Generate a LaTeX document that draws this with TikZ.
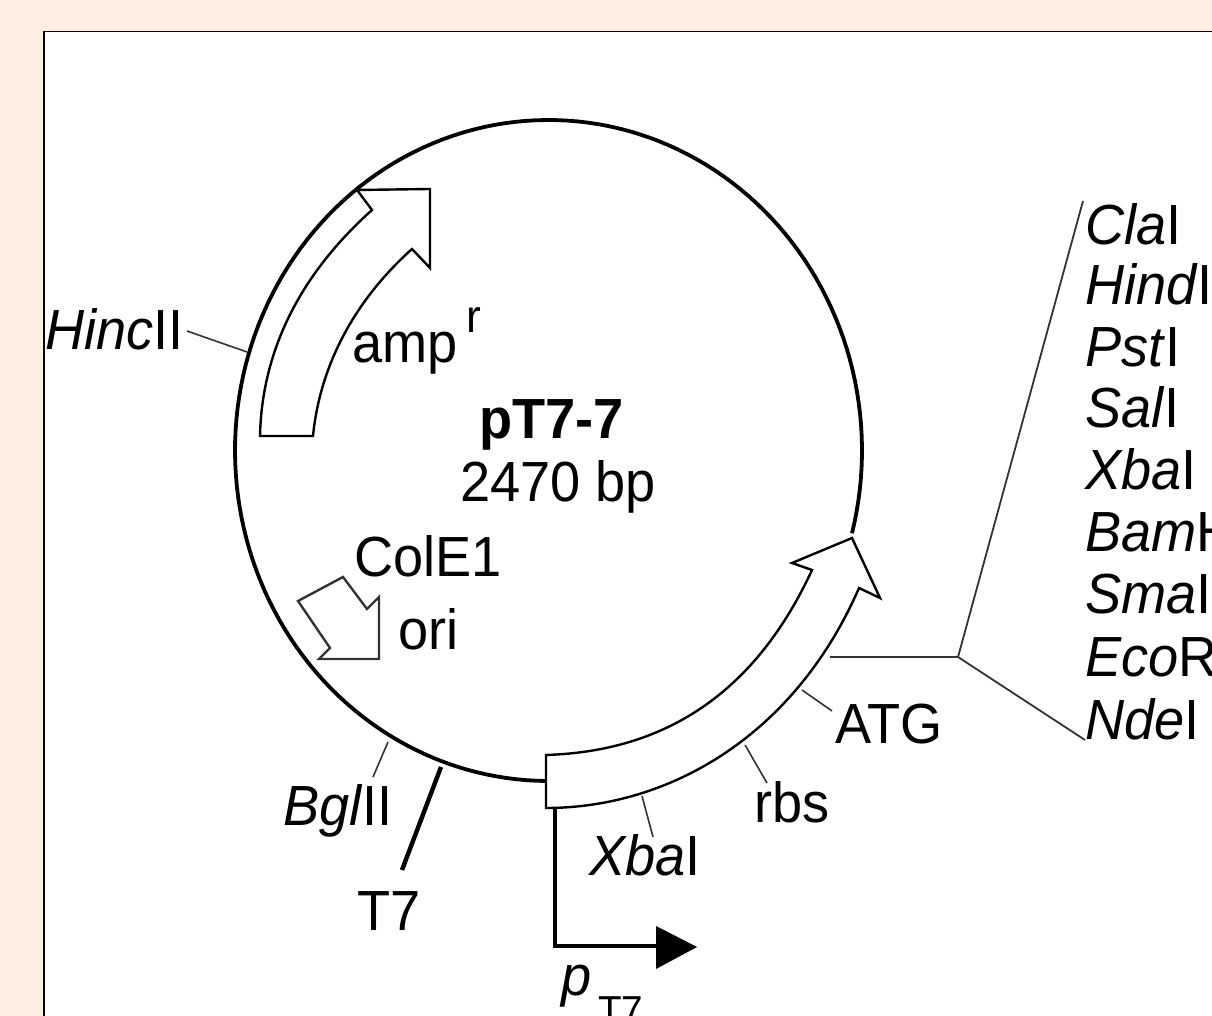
\documentclass[tikz,border=0pt]{standalone}
\usepackage{fontspec}
\setmainfont{Liberation Sans}
\definecolor{pagebg}{HTML}{FDEFE2}
\definecolor{soft}{HTML}{333333}
\newcommand{\lbl}[1]{\scalebox{1}[1.045]{#1}}
\newcommand{\ital}[1]{\textit{#1}}
\tikzset{
  lab/.style={anchor=base west,inner sep=0pt,outer sep=0pt,font=\fontsize{15.4pt}{18pt}\selectfont},
  labsmall/.style={lab,font=\fontsize{12.6pt}{15pt}\selectfont},
  labsub/.style={lab,font=\fontsize{11pt}{13pt}\selectfont},
  labbold/.style={lab,font=\fontsize{15.4pt}{18pt}\selectfont\bfseries},
  ring/.style={draw=black,line width=0.038cm},
  feature/.style={draw=black,line width=0.024cm,fill=white,line join=miter},
  orifeature/.style={draw=soft,line width=0.024cm,fill=white,line join=miter},
  thin leader/.style={draw=soft,line width=0.016cm},
  mcs leader/.style={draw=soft,line width=0.018cm},
  bold leader/.style={draw=black,line width=0.044cm},
  head/.style={fill=black,draw=none}
}
\begin{document}
\begin{tikzpicture}[x=0.01cm,y=-0.01cm]
\clip (0,0) rectangle (1212,1016);
\fill[pagebg] (0,0) rectangle (1212,1016);
\draw[black,line width=0.018cm,fill=white] (44,31.5) rectangle (1300,1100);

% plasmid ring
\draw[ring] plot[domain=-284.5:0,samples=150,variable=\t]
  ({548.5+313.5*sin(\t)},{450.5+330.5*cos(\t)});

% amp arrow
\draw[feature] (260,436) .. controls (262,345) and (305,270) .. (372,210)
  -- (357,190) -- (430,189) -- (430,268) -- (412,249)
  .. controls (355,300) and (320,365) .. (313,436) -- cycle;

% ori arrow
\draw[orifeature] (343,577) -- (367,609) -- (379,597) -- (379,659) -- (319,659)
  -- (330,648) -- (298,601) -- cycle;

% promoter
\coordinate (pStart) at (555,808);
\coordinate (pCorner) at (555,946);
\coordinate (pEnd) at (660,946);
\draw[bold leader,line join=miter] (pStart) -- (pCorner) -- (pEnd);
\fill[head] (656,926) -- (697,947) -- (656,969) -- cycle;

% large gene arrow
\draw[feature] (546,755) .. controls (640,752) and (745,715) .. (812,570)
  -- (792,563) -- (852,538) -- (880,598) -- (859,588)
  .. controls (795,735) and (670,808) .. (546,808) -- cycle;

% ticks
\coordinate (hincA) at (187,331);  \coordinate (hincB) at (247,352);
\coordinate (atgA) at (802,690);   \coordinate (atgB) at (832,711);
\coordinate (rbsA) at (745,745);   \coordinate (rbsB) at (767,783);
\coordinate (xbaA) at (642,796);   \coordinate (xbaB) at (653,837);
\coordinate (bglA) at (388,742);   \coordinate (bglB) at (373,777);
\coordinate (tsevA) at (441,767);  \coordinate (tsevB) at (402,870);
\coordinate (mcsA) at (830,657);   \coordinate (mcsB) at (958,657);
\coordinate (mcsT) at (1083,201);  \coordinate (mcsL) at (1085,740);
\draw[thin leader] (hincA) -- (hincB);
\draw[thin leader] (atgA) -- (atgB);
\draw[thin leader] (rbsA) -- (rbsB);
\draw[thin leader] (xbaA) -- (xbaB);
\draw[thin leader] (bglA) -- (bglB);
\draw[bold leader] (tsevA) -- (tsevB);
\draw[mcs leader] (mcsA) -- (mcsB);
\draw[mcs leader] (mcsT) -- (mcsB) -- (mcsL);

% labels
\node[lab] (hinc) at (45,350) {\lbl{\ital{Hinc}II}};
\node[lab] (amp) at (352,363) {\lbl{amp}};
\node[labsmall] (ampr) at (466,333) {\lbl{r}};
\node[labbold] (name) at (479,439) {\lbl{pT7-7}};
\node[lab] (size) at (460,502) {\lbl{2470 bp}};
\node[lab] (cole) at (354,577) {\lbl{ColE1}};
\node[lab] (ori) at (398,650) {\lbl{ori}};
\node[lab] (bgl) at (283,825) {\lbl{\ital{Bgl}II}};
\node[lab] (tsev) at (357,930) {\lbl{T7}};
\node[lab] (xba) at (589,875) {\lbl{\ital{Xba}I}};
\node[lab] (rbs) at (754,822) {\lbl{rbs}};
\node[lab] (atg) at (835,744) {\lbl{ATG}};
\node[lab] (pp) at (561,995) {\lbl{\ital{p}}};
\node[labsub] (ptsev) at (598,1024) {\lbl{T7}};
\node[lab] (m1) at (1085,245) {\lbl{\ital{Cla}I}};
\node[lab] (m2) at (1085,305) {\lbl{\ital{Hind}III}};
\node[lab] (m3) at (1085,367) {\lbl{\ital{Pst}I}};
\node[lab] (m4) at (1085,428) {\lbl{\ital{Sal}I}};
\node[lab] (m5) at (1085,490) {\lbl{\ital{Xba}I}};
\node[lab] (m6) at (1085,552) {\lbl{\ital{Bam}HI}};
\node[lab] (m7) at (1085,614) {\lbl{\ital{Sma}I}};
\node[lab] (m8) at (1085,677) {\lbl{\ital{Eco}RI}};
\node[lab] (m9) at (1085,739) {\lbl{\ital{Nde}I}};
\end{tikzpicture}
\end{document}
